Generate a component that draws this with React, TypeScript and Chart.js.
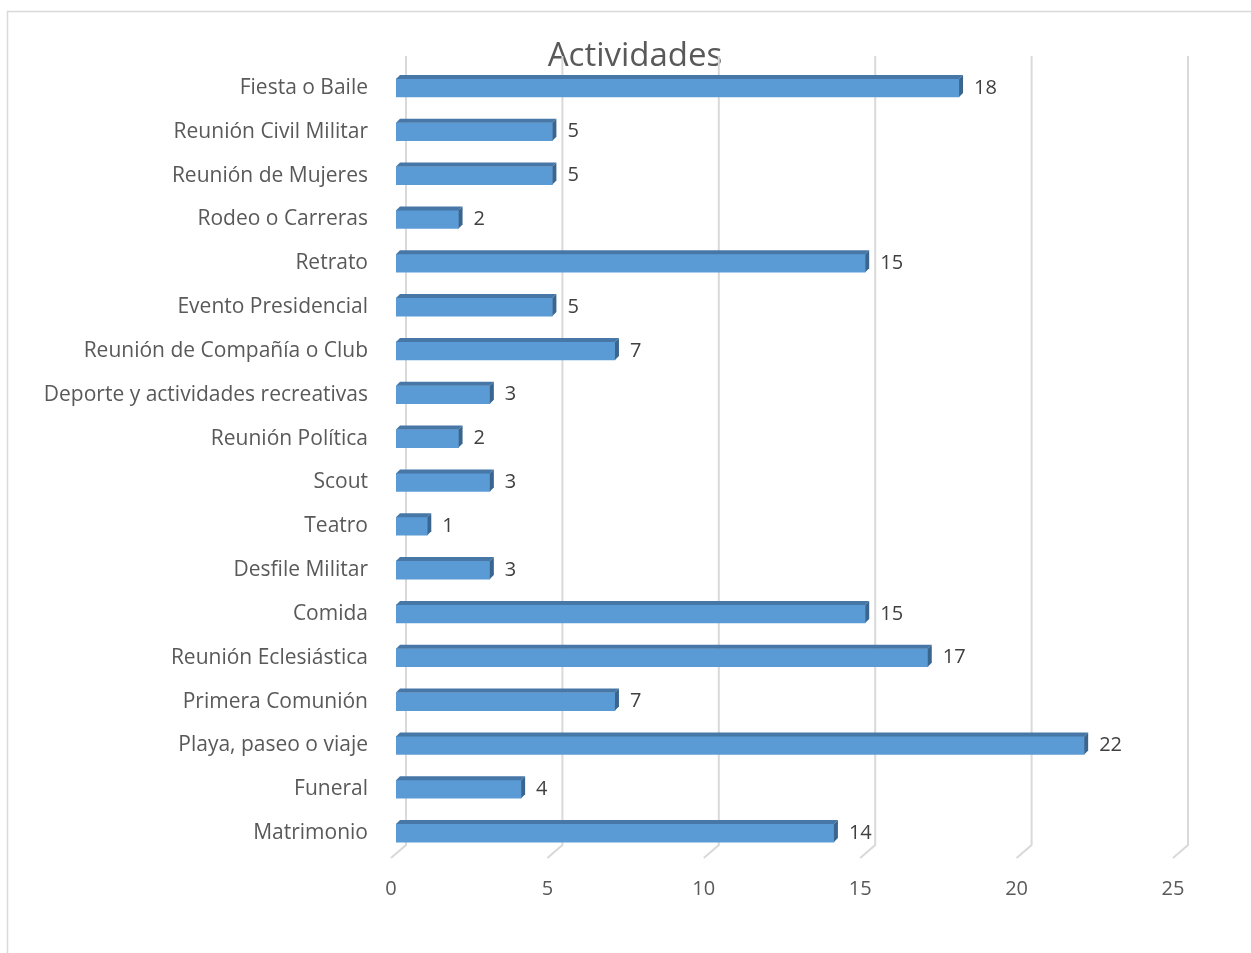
import React, { useEffect, useRef } from "react";
import { Chart, registerables } from "chart.js";

Chart.register(...registerables);

const categories = [
  "Fiesta o Baile",
  "Reunión Civil Militar",
  "Reunión de Mujeres",
  "Rodeo o Carreras",
  "Retrato",
  "Evento Presidencial",
  "Reunión de Compañía o Club",
  "Deporte y actividades recreativas",
  "Reunión Política",
  "Scout",
  "Teatro",
  "Desfile Militar",
  "Comida",
  "Reunión Eclesiástica",
  "Primera Comunión",
  "Playa, paseo o viaje",
  "Funeral",
  "Matrimonio",
];
const values = [18, 5, 5, 2, 15, 5, 7, 3, 2, 3, 1, 3, 15, 17, 7, 22, 4, 14];
const xTicks = [0, 5, 10, 15, 20, 25];
const title = "Actividades";

const FONT = "'Open Sans', 'DejaVu Sans', sans-serif";
const DEPTH = 4;

const decorPlugin = {
  id: "decor",
  beforeDraw(chart: any) {
    const ctx = chart.ctx;
    ctx.save();
    ctx.fillStyle = "#ffffff";
    ctx.fillRect(0, 0, chart.width, chart.height);
    ctx.strokeStyle = "#d9d9d9";
    ctx.lineWidth = 1.5;
    ctx.strokeRect(7.5, 11.5, chart.width + 20, chart.height + 20);
    // title
    ctx.fillStyle = "#595959";
    ctx.font = `33px ${FONT}`;
    ctx.textAlign = "center";
    ctx.textBaseline = "middle";
    ctx.fillText(title, 635, 57);
    ctx.restore();
  },
  beforeDatasetsDraw(chart: any) {
    const ctx = chart.ctx;
    const xs = chart.scales.x;
    const area = chart.chartArea;
    ctx.save();
    ctx.strokeStyle = "#d9d9d9";
    ctx.lineWidth = 2;
    xTicks.forEach((t) => {
      const x = xs.getPixelForValue(t);
      ctx.beginPath();
      ctx.moveTo(x + 10, area.top - 10);
      ctx.lineTo(x + 10, area.bottom - 10);
      ctx.lineTo(x - 5, area.bottom + 3);
      ctx.stroke();
    });
    ctx.restore();
  },
  afterDatasetsDraw(chart: any) {
    const ctx = chart.ctx;
    const meta = chart.getDatasetMeta(0);
    ctx.save();
    meta.data.forEach((bar: any, i: number) => {
      const { x, y, base, height } = bar.getProps(["x", "y", "base", "height"], true);
      const top = y - height / 2;
      const bottom = y + height / 2;
      // top face
      ctx.fillStyle = "#4677a6";
      ctx.beginPath();
      ctx.moveTo(base, top);
      ctx.lineTo(base + DEPTH, top - DEPTH);
      ctx.lineTo(x + DEPTH, top - DEPTH);
      ctx.lineTo(x, top);
      ctx.closePath();
      ctx.fill();
      // side face
      ctx.fillStyle = "#3a658f";
      ctx.beginPath();
      ctx.moveTo(x, top);
      ctx.lineTo(x + DEPTH, top - DEPTH);
      ctx.lineTo(x + DEPTH, bottom - DEPTH);
      ctx.lineTo(x, bottom);
      ctx.closePath();
      ctx.fill();
      // value label
      ctx.fillStyle = "#404040";
      ctx.font = `20px ${FONT}`;
      ctx.textAlign = "left";
      ctx.textBaseline = "middle";
      ctx.fillText(String(values[i]), x + 15, y);
    });
    ctx.restore();
  },
};

export default function App() {
  const ref = useRef<HTMLCanvasElement>(null);
  useEffect(() => {
    if (!ref.current) return;
    const chart = new Chart(ref.current, {
      type: "bar",
      data: {
        labels: categories,
        datasets: [
          {
            data: values,
            backgroundColor: "#5b9bd5",
            borderWidth: 0,
            barThickness: 18,
          },
        ],
      },
      options: {
        indexAxis: "y",
        animation: false,
        responsive: false,
        maintainAspectRatio: false,
        layout: { padding: { top: 66, right: 73, bottom: 0, left: 0 } },
        plugins: {
          legend: { display: false },
          tooltip: { enabled: false },
          title: { display: false },
        },
        scales: {
          x: {
            min: 0,
            max: 25,
            afterFit: (s: any) => {
              s.height = 98;
            },
            afterBuildTicks: (s: any) => {
              s.ticks = xTicks.map((v) => ({ value: v }));
            },
            grid: { display: false, drawTicks: false },
            border: { display: false },
            ticks: {
              padding: 22,
              labelOffset: -5,
              color: "#595959",
              font: { family: FONT, size: 20 },
            },
          },
          y: {
            afterFit: (s: any) => {
              s.width = 396;
            },
            grid: { display: false, drawTicks: false },
            border: { display: false },
            ticks: {
              padding: 28,
              color: "#595959",
              font: { family: FONT, size: 21 },
            },
          },
        },
      },
      plugins: [decorPlugin],
    });
    return () => chart.destroy();
  }, []);
  return (
    <canvas
      ref={ref}
      width={1251}
      height={953}
      style={{ position: "fixed", left: 0, top: 0, width: 1251, height: 953 }}
    />
  );
}
